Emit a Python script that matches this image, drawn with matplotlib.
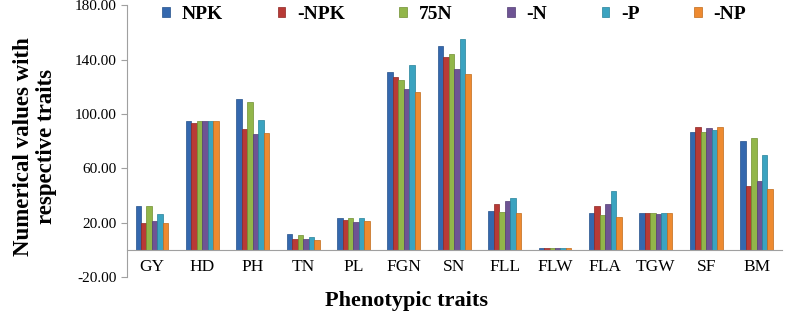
import numpy as np
import matplotlib.pyplot as plt

traits = ['GY', 'HD', 'PH', 'TN', 'PL', 'FGN', 'SN', 'FLL', 'FLW', 'FLA', 'TGW', 'SF', 'BM']
series = ['NPK', '-NPK', '75N', '-N', '-P', '-NP']

npk = [32.4, 94.5, 111.0, 11.4, 23.3, 130.5, 150.0, 28.7, 1.5, 27.4, 27.0, 87.0, 79.8]
minus_npk = [20.0, 93.5, 88.5, 7.7, 22.0, 127.4, 141.8, 33.6, 1.5, 31.9, 27.0, 90.0, 47.2]
n75 = [32.4, 94.5, 109.0, 10.9, 23.3, 125.2, 143.7, 28.1, 1.5, 25.7, 27.0, 86.7, 82.5]
minus_n = [21.3, 94.5, 85.0, 7.9, 20.7, 118.3, 133.0, 35.8, 1.5, 33.9, 26.5, 89.4, 50.4]
minus_p = [26.4, 94.5, 95.3, 9.4, 23.3, 136.0, 154.8, 37.8, 1.5, 43.5, 27.0, 87.9, 69.4]
minus_np = [20.0, 94.5, 86.0, 7.4, 21.5, 116.3, 129.4, 27.2, 1.5, 24.0, 27.0, 90.1, 44.7]

values = [npk, minus_npk, n75, minus_n, minus_p, minus_np]
colors = ['#3468AE', '#B83A36', '#92B64A', '#6E5494', '#3BA3C0', '#EE8A30']
edges = ['#24508A', '#8E2522', '#6F8F30', '#523C73', '#25819A', '#C06A1A']

serif = ['Liberation Serif', 'DejaVu Serif']

fig = plt.figure(figsize=(7.9, 3.22), dpi=100)
ax = fig.add_axes([0.1605, 0.140, 0.829, 0.844])

x = np.arange(len(traits))
w = 0.109
for i, (name, vals) in enumerate(zip(series, values)):
    ax.bar(x + (i - 2.5) * w, vals, width=w, color=colors[i], edgecolor=edges[i],
           linewidth=0.5, label=name, zorder=2)

ax.set_xlim(-0.5, len(traits) - 0.5)
ax.set_ylim(-20, 180)
ax.set_yticks(np.arange(-20, 181, 40))
ax.set_yticklabels([f'{v:.2f}' for v in np.arange(-20, 181, 40)], family=serif, fontsize=11)

ax.spines['top'].set_visible(False)
ax.spines['right'].set_visible(False)
ax.spines['left'].set_color('#A0A0A0')
ax.spines['bottom'].set_position(('data', 0))
ax.spines['bottom'].set_color('#A0A0A0')
ax.tick_params(axis='y', colors='#A0A0A0', length=4, labelcolor='black')
ax.tick_params(axis='x', length=0, pad=7)
ax.set_xticks(x)
ax.set_xticklabels(traits, family=serif, fontsize=12.5)

fig.text(0.514, 0.066, 'Phenotypic traits', ha='center', va='center',
         family=serif, fontsize=16, fontweight='bold')
fig.text(0.044, 0.545, 'Numerical values with\nrespective traits', ha='center', va='center',
         rotation=90, family=serif, fontsize=16.5, fontweight='bold', linespacing=1.1)

leg = ax.legend(loc='upper center', bbox_to_anchor=(0.5, 1.025), ncol=6, frameon=False,
                prop={'family': serif, 'weight': 'bold', 'size': 14},
                handlelength=0.4, handleheight=0.4, columnspacing=2.8, handletextpad=0.6,
                borderaxespad=0.0)

plt.savefig('out.png')
